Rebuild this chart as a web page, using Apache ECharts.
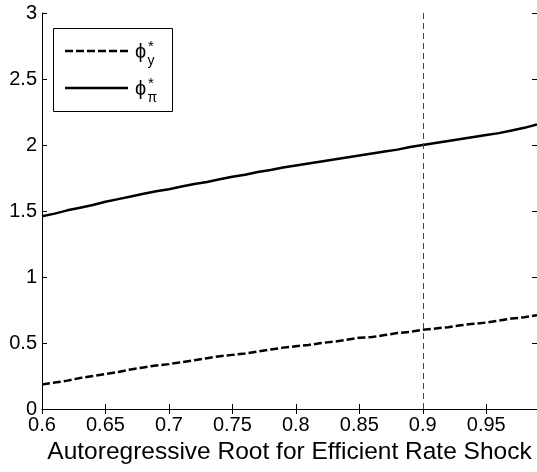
<!DOCTYPE html>
<html>
<head>
<meta charset="utf-8">
<script src="https://cdn.jsdelivr.net/npm/echarts@6/dist/echarts.min.js"></script>
<style>
  html, body { margin: 0; padding: 0; background: #fff; }
  #chart { width: 537px; height: 472px; }
</style>
</head>
<body>
<div id="chart"></div>
<script>
// Autoregressive root of the efficient-rate shock (x) and optimal policy coefficients
const rho = [0.60, 0.61, 0.62, 0.63, 0.64, 0.65, 0.66, 0.67, 0.68, 0.69,
             0.70, 0.71, 0.72, 0.73, 0.74, 0.75, 0.76, 0.77, 0.78, 0.79,
             0.80, 0.81, 0.82, 0.83, 0.84, 0.85, 0.86, 0.87, 0.88, 0.89,
             0.90, 0.91, 0.92, 0.93, 0.94, 0.95, 0.96, 0.97, 0.98, 0.99];
const phiY = [0.185, 0.200, 0.215, 0.235, 0.250, 0.265, 0.280, 0.300, 0.315, 0.330,
              0.340, 0.355, 0.370, 0.385, 0.400, 0.410, 0.420, 0.435, 0.450, 0.465,
              0.475, 0.485, 0.500, 0.510, 0.525, 0.540, 0.545, 0.560, 0.575, 0.585,
              0.600, 0.610, 0.620, 0.635, 0.645, 0.655, 0.670, 0.685, 0.695, 0.710];
const phiPi = [1.460, 1.480, 1.505, 1.525, 1.545, 1.570, 1.590, 1.610, 1.630, 1.650,
               1.665, 1.685, 1.705, 1.720, 1.740, 1.760, 1.775, 1.795, 1.810, 1.830,
               1.845, 1.860, 1.875, 1.890, 1.905, 1.920, 1.935, 1.950, 1.965, 1.985,
               2.000, 2.015, 2.030, 2.045, 2.060, 2.075, 2.090, 2.110, 2.130, 2.155];
const markerRho = 0.9;
const xTicks = [0.6, 0.65, 0.7, 0.75, 0.8, 0.85, 0.9, 0.95];
const yTicks = [0, 0.5, 1, 1.5, 2, 2.5, 3];

const FONT = 'Liberation Sans, Arial, sans-serif';
const chart = echarts.init(document.getElementById('chart'));

const pairs = (ys) => rho.map((x, i) => [x, ys[i]]);
const boxAxis = {
  axisLine: { show: true, lineStyle: { color: '#000', width: 1 } },
  axisTick: { show: true, inside: true, length: 5, lineStyle: { color: '#000' } },
  splitLine: { show: false }
};

// one legend row: line sample, then phi with a subscript and a star superscript
function legendRow(y, sub, dashed) {
  return [
    { type: 'line', z: 11, shape: { x1: 65, y1: y, x2: 128, y2: y },
      style: { stroke: '#000', lineWidth: 2.5, lineDash: dashed ? [8, 3] : null } },
    { type: 'text', z: 11, x: 135, y: y + 1,
      style: { text: 'ϕ', font: '20px ' + FONT, fill: '#000', textVerticalAlign: 'middle' } },
    { type: 'text', z: 11, x: 147.5, y: y + 10,
      style: { text: sub, font: '14px ' + FONT, fill: '#000', textVerticalAlign: 'middle' } },
    { type: 'text', z: 11, x: 148, y: y - 4,
      style: { text: '*', font: '15px ' + FONT, fill: '#000', textVerticalAlign: 'middle' } }
  ];
}

chart.setOption({
  animation: false,
  backgroundColor: '#fff',
  grid: { left: 42, right: -1, top: 13, bottom: 63 },
  xAxis: [
    Object.assign({}, boxAxis, {
      type: 'value', min: 0.6, max: 0.99, interval: 0.05,
      axisLabel: { color: '#000', fontFamily: FONT, fontSize: 20, margin: 6,
        showMaxLabel: false,
        formatter: v => xTicks.some(t => Math.abs(t - v) < 1e-6) ? String(+v.toFixed(2)) : '' },
      name: 'Autoregressive Root for Efficient Rate Shock',
      nameLocation: 'middle', nameGap: 31,
      nameTextStyle: { color: '#000', fontFamily: FONT, fontSize: 24.5 }
    }),
    Object.assign({}, boxAxis, {
      type: 'value', min: 0.6, max: 0.99, interval: 0.05, position: 'top',
      axisLabel: { show: false }
    })
  ],
  yAxis: [
    Object.assign({}, boxAxis, {
      type: 'value', min: 0, max: 3, interval: 0.5,
      axisLabel: { color: '#000', fontFamily: FONT, fontSize: 20, margin: 5,
        formatter: v => yTicks.includes(+v.toFixed(2)) ? String(+v.toFixed(2)) : '' }
    }),
    Object.assign({}, boxAxis, {
      type: 'value', min: 0, max: 3, interval: 0.5, position: 'right',
      axisLabel: { show: false }
    })
  ],
  series: [
    {
      name: 'phi_y', type: 'line', data: pairs(phiY), showSymbol: false,
      lineStyle: { color: '#000', width: 2.5, type: [8, 3] },
      markLine: {
        silent: true, symbol: 'none', label: { show: false },
        lineStyle: { color: '#444', width: 1, type: [6, 4] },
        data: [{ xAxis: markerRho }]
      }
    },
    {
      name: 'phi_pi', type: 'line', data: pairs(phiPi), showSymbol: false,
      lineStyle: { color: '#000', width: 2.5 }
    }
  ],
  graphic: [
    { type: 'rect', z: 10, shape: { x: 53.5, y: 28.5, width: 119, height: 83 },
      style: { fill: '#fff', stroke: '#000', lineWidth: 1 } }
  ].concat(legendRow(51, 'y', true), legendRow(88, 'π', false))
});
</script>
</body>
</html>
